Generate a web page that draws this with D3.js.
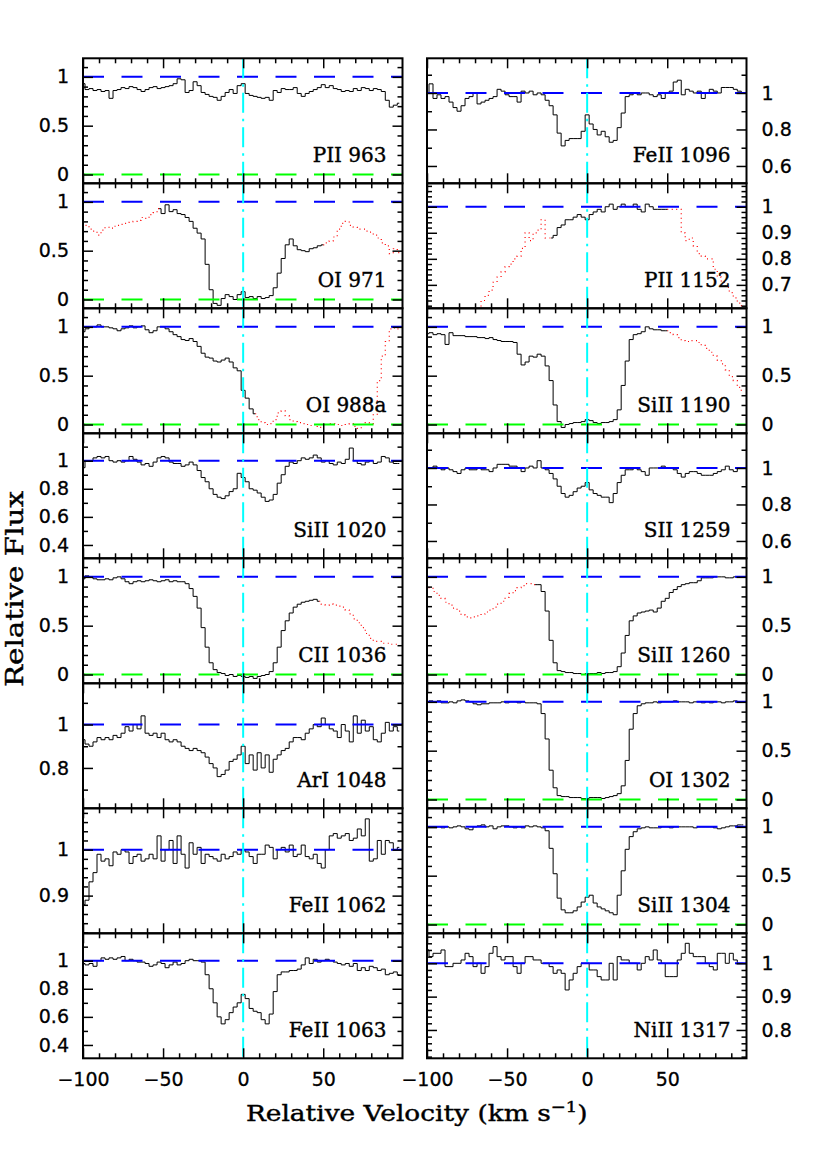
<!DOCTYPE html>
<html>
<head>
<meta charset="utf-8">
<script src="https://cdn.jsdelivr.net/npm/d3@7"></script>
<style>
  html, body { margin: 0; padding: 0; background: #ffffff; }
  svg { display: block; }
</style>
</head>
<body>
<div id="graph"></div>
<script>
//----------------------------------------------------------
// data: pixel velocities (km/s) and normalised flux per line

const VELOCITY = [
  -100, -97.5, -95, -92.5, -90, -87.5, -85, -82.5, -80, -77.5,
  -75, -72.5, -70, -67.5, -65, -62.5, -60, -57.5, -55, -52.5,
  -50, -47.5, -45, -42.5, -40, -37.5, -35, -32.5, -30, -27.5,
  -25, -22.5, -20, -17.5, -15, -12.5, -10, -7.5, -5, -2.5,
  0, 2.5, 5, 7.5, 10, 12.5, 15, 17.5, 20, 22.5,
  25, 27.5, 30, 32.5, 35, 37.5, 40, 42.5, 45, 47.5,
  50, 52.5, 55, 57.5, 60, 62.5, 65, 67.5, 70, 72.5,
  75, 77.5, 80, 82.5, 85, 87.5, 90, 92.5, 95, 97.5
];

const FLUX_PII_963 = [
  0.93, 0.87, 0.88, 0.86, 0.87, 0.85, 0.86, 0.78, 0.86, 0.87,
  0.89, 0.88, 0.90, 0.89, 0.87, 0.85, 0.87, 0.89, 0.90, 0.88,
  0.89, 0.90, 0.91, 0.93, 0.98, 0.97, 0.84, 0.86, 0.95, 0.91,
  0.84, 0.82, 0.80, 0.79, 0.76, 0.80, 0.84, 0.87, 0.83, 0.91,
  0.93, 0.83, 0.81, 0.80, 0.79, 0.78, 0.79, 0.76, 0.86, 0.84,
  0.88, 0.87, 0.87, 0.89, 0.83, 0.80, 0.83, 0.85, 0.87, 0.89,
  0.92, 0.89, 0.91, 0.88, 0.87, 0.85, 0.86, 0.85, 0.88, 0.86,
  0.89, 0.88, 0.86, 0.88, 0.87, 0.85, 0.76, 0.69, 0.71, 0.73
];

const FLUX_OI_971 = [
  0.74, 0.76, 0.72, 0.70, 0.66, 0.71, 0.74, 0.73, 0.75, 0.76,
  0.77, 0.78, 0.79, 0.80, 0.81, 0.84, 0.83, 0.87, 0.89, 0.93,
  0.88, 0.97, 0.90, 0.92, 0.88, 0.87, 0.84, 0.80, 0.73, 0.68,
  0.62, 0.36, 0.10, -0.04, -0.06, 0.01, 0.05, 0.03, 0.00, 0.05,
  0.08, 0.02, 0.03, 0.01, 0.03, 0.01, 0.02, 0.04, 0.12, 0.27,
  0.42, 0.56, 0.62, 0.55, 0.51, 0.50, 0.49, 0.52, 0.53, 0.55,
  0.56, 0.58, 0.60, 0.64, 0.72, 0.78, 0.80, 0.76, 0.74, 0.72,
  0.72, 0.70, 0.69, 0.66, 0.63, 0.58, 0.55, 0.47, 0.52, 0.48
];

const FLUX_OI_988 = [
  0.95, 0.98, 1.00, 1.00, 1.02, 1.00, 1.00, 0.99, 0.98, 0.96,
  0.98, 0.99, 1.01, 0.99, 1.00, 1.01, 0.97, 0.94, 0.96, 1.00,
  1.00, 0.98, 0.95, 0.92, 0.90, 0.87, 0.86, 0.88, 0.85, 0.80,
  0.73, 0.69, 0.68, 0.65, 0.64, 0.66, 0.68, 0.64, 0.58, 0.55,
  0.35, 0.27, 0.16, 0.11, 0.05, 0.02, 0.00, 0.01, 0.05, 0.12,
  0.14, 0.09, 0.05, 0.03, 0.02, 0.01, 0.00, -0.01, 0.00, -0.03,
  0.00, 0.00, 0.01, 0.01, 0.00, -0.01, 0.00, 0.01, -0.02, -0.04,
  0.00, 0.02, 0.01, 0.10, 0.45, 0.70, 0.85, 0.98, 0.99, 0.98
];

const FLUX_SIII_1020 = [
  0.95, 1.00, 1.00, 1.02, 1.03, 1.02, 1.03, 1.00, 0.99, 1.00,
  0.99, 1.00, 1.03, 1.01, 0.99, 0.97, 0.98, 0.96, 0.99, 1.02,
  1.03, 1.02, 0.99, 0.98, 0.98, 0.96, 0.97, 0.99, 0.97, 0.93,
  0.88, 0.85, 0.80, 0.76, 0.74, 0.73, 0.75, 0.78, 0.80, 0.91,
  0.88, 0.85, 0.80, 0.79, 0.77, 0.74, 0.71, 0.72, 0.76, 0.84,
  0.90, 0.96, 0.99, 0.98, 1.00, 1.02, 1.01, 1.02, 1.04, 1.02,
  0.99, 1.00, 0.98, 0.97, 0.99, 0.98, 1.01, 1.09, 1.00, 0.98,
  0.97, 0.99, 1.00, 0.98, 0.99, 1.03, 1.02, 0.99, 0.98, 0.98
];

const FLUX_CII_1036 = [
  0.98, 1.01, 1.00, 0.98, 0.97, 0.97, 0.98, 0.97, 0.99, 1.00,
  0.98, 0.95, 0.93, 0.95, 0.96, 0.95, 0.96, 0.97, 0.96, 0.95,
  0.96, 0.97, 0.95, 0.96, 0.95, 0.95, 0.93, 0.88, 0.80, 0.68,
  0.48, 0.28, 0.12, 0.05, 0.02, 0.01, -0.01, 0.00, -0.02, -0.01,
  -0.02, -0.03, -0.02, -0.04, -0.02, -0.01, 0.00, 0.03, 0.12, 0.28,
  0.45, 0.55, 0.63, 0.69, 0.72, 0.74, 0.75, 0.76, 0.77, 0.75,
  0.72, 0.71, 0.72, 0.71, 0.70, 0.69, 0.66, 0.62, 0.57, 0.53,
  0.48, 0.42, 0.37, 0.34, 0.34, 0.32, 0.32, 0.31, 0.31, 0.30
];

const FLUX_ARI_1048 = [
  0.93, 0.91, 0.90, 0.92, 0.94, 0.93, 0.94, 0.93, 0.95, 0.94,
  0.96, 0.99, 0.97, 1.00, 0.98, 1.04, 0.96, 0.95, 0.96, 0.94,
  0.96, 0.93, 0.92, 0.93, 0.92, 0.90, 0.89, 0.88, 0.89, 0.88,
  0.87, 0.85, 0.82, 0.80, 0.76, 0.77, 0.79, 0.83, 0.84, 0.86,
  0.90, 0.82, 0.86, 0.79, 0.87, 0.80, 0.86, 0.78, 0.84, 0.86,
  0.88, 0.89, 0.92, 0.94, 0.94, 0.93, 0.96, 0.98, 1.00, 0.99,
  1.03, 1.00, 0.98, 0.97, 0.94, 1.00, 0.97, 0.92, 1.04, 0.96,
  1.02, 0.97, 0.99, 0.93, 0.92, 0.96, 1.01, 0.97, 0.99, 0.97
];

const FLUX_FEII_1062 = [
  0.88, 0.89, 0.93, 0.95, 0.99, 0.975, 0.98, 0.965, 0.995, 0.99,
  1.00, 0.995, 0.97, 0.985, 0.99, 0.975, 0.98, 0.99, 0.98, 1.03,
  0.975, 1.00, 1.02, 0.97, 1.03, 0.99, 0.96, 1.015, 0.99, 1.005,
  0.97, 0.99, 0.985, 0.98, 0.975, 0.99, 0.98, 0.985, 0.995, 0.99,
  1.00, 0.995, 0.985, 0.97, 0.99, 0.99, 1.01, 1.005, 0.98, 1.00,
  1.005, 0.995, 1.01, 0.985, 0.99, 1.01, 0.985, 0.98, 0.99, 0.97,
  0.96, 1.00, 1.03, 1.035, 1.025, 1.03, 1.035, 1.02, 1.025, 1.045,
  1.03, 1.067, 0.975, 0.98, 1.02, 0.99, 1.02, 1.015, 1.00, 1.005
];

const FLUX_FEII_1063 = [
  0.98, 0.97, 0.98, 0.96, 1.00, 1.02, 1.01, 1.02, 1.01, 1.02,
  1.03, 1.00, 1.01, 1.00, 0.99, 0.99, 0.98, 0.96, 0.97, 0.99,
  0.98, 0.95, 0.97, 0.99, 0.97, 0.98, 1.00, 1.01, 1.00, 1.00,
  0.99, 0.90, 0.80, 0.70, 0.60, 0.55, 0.58, 0.63, 0.67, 0.70,
  0.76, 0.73, 0.66, 0.64, 0.63, 0.58, 0.55, 0.62, 0.78, 0.90,
  0.92, 0.92, 0.93, 0.93, 0.94, 0.97, 1.02, 0.98, 1.01, 0.99,
  1.00, 1.01, 1.00, 0.99, 0.98, 0.97, 0.98, 0.96, 0.98, 0.93,
  0.95, 0.93, 0.96, 0.95, 0.93, 0.94, 0.90, 0.91, 0.92, 0.90
];

const FLUX_FEII_1096 = [
  1.00, 1.05, 0.97, 0.99, 0.97, 0.98, 0.95, 0.92, 0.90, 0.93,
  0.97, 0.98, 1.00, 0.94, 0.95, 0.96, 0.97, 0.98, 1.02, 1.01,
  0.99, 0.98, 0.98, 0.95, 1.01, 1.00, 1.01, 0.99, 1.00, 0.99,
  0.96, 0.93, 0.88, 0.78, 0.71, 0.74, 0.75, 0.75, 0.75, 0.79,
  0.88, 0.83, 0.80, 0.77, 0.79, 0.76, 0.73, 0.74, 0.81, 0.89,
  0.98, 0.99, 1.00, 0.99, 1.00, 1.00, 0.99, 0.98, 0.99, 0.97,
  1.00, 1.01, 1.06, 1.07, 0.99, 1.02, 1.01, 1.00, 1.01, 0.97,
  1.00, 1.02, 1.01, 1.00, 1.03, 1.03, 1.03, 1.02, 1.01, 1.00
];

const FLUX_PII_1152 = [
  null, null, null, null, null, null, null, null, null, null,
  null, null, null, 0.59, 0.64, 0.66, 0.68, 0.71, 0.73, 0.75,
  0.77, 0.78, 0.80, 0.81, 0.84, 0.90, 0.87, 0.90, 0.91, 0.95,
  0.88, 0.88, 0.89, 0.92, 0.93, 0.95, 0.95, 0.96, 0.97, 0.96,
  0.95, 0.97, 0.98, 0.99, 0.98, 1.00, 1.01, 0.99, 1.00, 1.01,
  1.00, 1.00, 1.01, 0.99, 0.98, 1.01, 1.00, 0.99, 0.99, 0.99,
  0.99, 0.99, 0.99, 0.99, 0.90, 0.87, 0.88, 0.85, 0.82, 0.81,
  0.80, 0.80, 0.76, 0.73, 0.71, 0.69, 0.67, 0.65, 0.63, 0.62
];

const FLUX_SIII_1190 = [
  0.93, 0.94, 0.92, 0.93, 0.92, 0.82, 0.94, 0.91, 0.91, 0.91,
  0.90, 0.90, 0.90, 0.89, 0.89, 0.88, 0.89, 0.87, 0.86, 0.85,
  0.85, 0.85, 0.84, 0.72, 0.61, 0.64, 0.70, 0.69, 0.72, 0.70,
  0.60, 0.45, 0.20, 0.03, -0.03, 0.00, 0.01, 0.02, 0.02, 0.03,
  0.05, 0.04, 0.02, 0.01, 0.02, 0.02, 0.03, 0.05, 0.15, 0.40,
  0.65, 0.87, 0.92, 0.93, 0.95, 1.00, 0.98, 0.97, 0.97, 0.96,
  0.96, 0.94, 0.92, 0.89, 0.86, 0.85, 0.86, 0.86, 0.84, 0.81,
  0.78, 0.74, 0.70, 0.66, 0.62, 0.56, 0.49, 0.45, 0.38, 0.34
];

const FLUX_SII_1259 = [
  1.00, 1.00, 1.01, 1.00, 0.99, 1.00, 0.99, 0.98, 0.97, 0.99,
  1.00, 0.99, 0.99, 1.00, 0.99, 0.99, 0.98, 1.00, 1.02, 1.02,
  1.02, 1.01, 1.01, 1.00, 0.98, 1.00, 1.01, 1.00, 1.04, 1.00,
  0.99, 0.97, 0.94, 0.90, 0.86, 0.84, 0.85, 0.87, 0.89, 0.90,
  0.92, 0.88, 0.86, 0.85, 0.84, 0.84, 0.81, 0.86, 0.92, 0.96,
  0.99, 0.99, 1.00, 0.99, 0.98, 0.96, 1.00, 1.00, 1.00, 1.01,
  1.00, 1.00, 0.99, 0.97, 0.95, 0.97, 0.98, 0.98, 0.97, 0.96,
  0.96, 0.96, 0.97, 0.98, 0.99, 1.01, 0.99, 0.98, 1.00, 1.00
];

const FLUX_SIII_1260 = [
  0.92, 0.89, 0.85, 0.81, 0.78, 0.74, 0.71, 0.68, 0.65, 0.61,
  0.59, 0.58, 0.59, 0.60, 0.62, 0.64, 0.66, 0.69, 0.72, 0.75,
  0.79, 0.83, 0.86, 0.89, 0.91, 0.93, 0.93, 0.92, 0.92, 0.85,
  0.65, 0.35, 0.12, 0.04, 0.03, 0.02, 0.02, 0.01, 0.01, 0.00,
  0.01, 0.01, 0.01, 0.02, 0.01, 0.02, 0.02, 0.03, 0.08, 0.22,
  0.40, 0.55, 0.60, 0.63, 0.64, 0.65, 0.66, 0.64, 0.68, 0.75,
  0.78, 0.84, 0.87, 0.90, 0.92, 0.93, 0.94, 0.94, 0.96, 0.99,
  0.99, 0.99, 1.00, 1.00, 1.00, 0.99, 0.99, 1.00, 1.00, 1.00
];

const FLUX_OI_1302 = [
  1.00, 1.01, 1.00, 1.01, 0.99, 0.99, 1.00, 0.99, 1.01, 1.02,
  1.01, 1.00, 0.98, 0.97, 0.98, 0.98, 0.99, 0.99, 0.99, 1.00,
  0.99, 1.00, 1.00, 0.99, 1.00, 0.99, 0.99, 0.99, 0.98, 0.88,
  0.62, 0.30, 0.12, 0.04, 0.03, 0.03, 0.02, 0.02, 0.02, 0.01,
  0.01, 0.02, 0.02, 0.02, 0.01, 0.02, 0.03, 0.04, 0.06, 0.14,
  0.40, 0.72, 0.88, 0.96, 0.98, 0.99, 0.99, 1.00, 0.99, 1.00,
  1.00, 1.00, 1.01, 1.00, 1.00, 1.00, 0.99, 1.00, 1.00, 0.99,
  1.00, 0.99, 1.00, 1.00, 0.99, 1.00, 1.00, 1.01, 1.00, 1.00
];

const FLUX_SIII_1304 = [
  0.99, 0.99, 0.99, 1.00, 0.99, 1.00, 0.99, 1.00, 1.01, 1.00,
  0.98, 0.97, 1.00, 1.01, 1.02, 1.00, 1.01, 0.98, 1.00, 1.01,
  1.01, 1.00, 0.99, 1.00, 0.99, 1.01, 1.00, 1.01, 1.00, 0.99,
  0.96, 0.78, 0.52, 0.27, 0.15, 0.12, 0.12, 0.14, 0.18, 0.23,
  0.28, 0.30, 0.22, 0.18, 0.16, 0.14, 0.12, 0.10, 0.30, 0.55,
  0.77, 0.90, 0.95, 0.98, 0.99, 1.00, 0.99, 0.99, 0.99, 1.00,
  1.00, 0.99, 1.00, 1.00, 1.00, 1.00, 1.00, 0.99, 1.00, 1.00,
  1.00, 1.00, 0.99, 0.98, 0.99, 1.00, 1.01, 1.01, 1.02, 1.02
];

const FLUX_NIII_1317 = [
  1.04, 1.02, 1.03, 1.03, 1.04, 0.99, 0.99, 1.00, 1.00, 1.01,
  1.03, 1.02, 0.99, 1.00, 0.97, 0.99, 1.03, 1.05, 1.02, 1.01,
  1.02, 1.02, 0.99, 0.97, 1.00, 1.02, 1.02, 1.01, 1.01, 1.00,
  1.00, 0.99, 0.97, 0.98, 0.97, 0.92, 0.95, 0.97, 0.99, 1.00,
  1.00, 0.98, 0.98, 0.96, 0.95, 0.95, 1.00, 0.95, 1.02, 1.01,
  1.01, 1.00, 1.00, 0.98, 1.00, 1.02, 1.01, 1.04, 1.01, 1.00,
  0.96, 0.96, 0.96, 1.01, 1.03, 1.06, 1.03, 1.02, 1.02, 1.02,
  1.00, 0.99, 0.98, 1.03, 1.03, 1.00, 1.03, 1.01, 1.00, 1.00
];

// panels: left column top to bottom, then right column top to bottom
const LINE_LABELS = [
  "PII 963", "OI 971", "OI 988a", "SiII 1020",
  "CII 1036", "ArI 1048", "FeII 1062", "FeII 1063",
  "FeII 1096", "PII 1152", "SiII 1190", "SII 1259",
  "SiII 1260", "OI 1302", "SiII 1304", "NiII 1317"
];

const LINE_FLUX = [
  FLUX_PII_963, FLUX_OI_971, FLUX_OI_988, FLUX_SIII_1020,
  FLUX_CII_1036, FLUX_ARI_1048, FLUX_FEII_1062, FLUX_FEII_1063,
  FLUX_FEII_1096, FLUX_PII_1152, FLUX_SIII_1190, FLUX_SII_1259,
  FLUX_SIII_1260, FLUX_OI_1302, FLUX_SIII_1304, FLUX_NIII_1317
];

// velocity span drawn solid; outside it the profile is blended (dotted)
const SOLID_SPAN = [
  [-100, 97.5], [-52.5, 50], [-100, 7.5], [-100, 97.5],
  [-100, 47.5], [-100, 97.5], [-100, 97.5], [-100, 97.5],
  [-100, 97.5], [-22.5, 50], [-100, 50], [-100, 97.5],
  [-32.5, 97.5], [-100, 97.5], [-100, 97.5], [-100, 97.5]
];

const FLUX_RANGE = [
  [-0.09, 1.19], [-0.09, 1.19], [-0.09, 1.19], [0.305, 1.195],
  [-0.09, 1.19], [0.614, 1.19], [0.818, 1.09], [0.305, 1.195],
  [0.505, 1.19], [0.61, 1.09], [-0.09, 1.19], [0.505, 1.19],
  [-0.09, 1.19], [-0.09, 1.19], [-0.09, 1.19], [0.715, 1.09]
];

// [labelled tick step, small tick step]
const FLUX_TICK_STEP = [
  [0.5, 0.1], [0.5, 0.1], [0.5, 0.1], [0.2, 0.1],
  [0.5, 0.1], [0.2, 0.1], [0.1, 0.02], [0.2, 0.1],
  [0.2, 0.1], [0.1, 0.02], [0.5, 0.1], [0.2, 0.1],
  [0.5, 0.1], [0.5, 0.1], [0.5, 0.1], [0.1, 0.02]
];

const VELOCITY_RANGE = [-100, 99.5];
const VELOCITY_TICKS = [-100, -50, 0, 50];


//----------------------------------------------------------
// layout

const g_col_left = [83, 427];
const g_panel_w = 319.5;
const g_panel_top = 58.3;
const g_panel_h = 125;
const g_rows = 8;

const NUM_FONT = "'DejaVu Sans', sans-serif";
const TXT_FONT = "'DejaVu Serif', serif";

var g_svg = d3.select("#graph")
  .append("svg")
    .attr("width", 830)
    .attr("height", 1176)
    .style("background", "#ffffff");

var g_defs = g_svg.append("defs");
var g_fmt = d3.format("~g");


//----------------------------------------------------------
function Steps(domain, step) {
    const first = Math.ceil(domain[0] / step - 1e-6);
    const last = Math.floor(domain[1] / step + 1e-6);
    return d3.range(first, last + 1).map(function (i) {
        return +(i * step).toFixed(4);
    });
}

function IsMultiple(v, step) {
    return Math.abs(v / step - Math.round(v / step)) < 1e-6;
}

function StyleAxis(sel, labels) {
    sel.select(".domain").remove();
    sel.selectAll(".tick line")
        .attr("stroke", "#000")
        .attr("stroke-width", 1.5);
    sel.selectAll(".tick text")
        .attr("fill", "#000")
        .attr("stroke", "#000")
        .attr("stroke-width", 0.3)
        .style("font-family", NUM_FONT)
        .style("font-size", "19px");
    if (!labels)
        sel.selectAll(".tick text").remove();
}


//----------------------------------------------------------
function DrawPanel(index) {
    const col = Math.floor(index / g_rows);
    const row = index % g_rows;
    const left = g_col_left[col];
    const right = left + g_panel_w;
    const top = g_panel_top + row * g_panel_h;
    const bottom = top + g_panel_h;

    const x = d3.scaleLinear().domain(VELOCITY_RANGE).range([left, right]);
    const y = d3.scaleLinear().domain(FLUX_RANGE[index]).range([bottom, top]);

    const panel = g_svg.append("g").attr("class", "panel");

    const clip_id = "clip-" + index;
    g_defs.append("clipPath")
        .attr("id", clip_id)
      .append("rect")
        .attr("x", left)
        .attr("y", top)
        .attr("width", g_panel_w)
        .attr("height", g_panel_h);

    const plot = panel.append("g")
        .attr("clip-path", "url(#" + clip_id + ")");

    // spectrum
    const flux = LINE_FLUX[index];
    const points = VELOCITY.map(function (v, i) {
        return { v: v, f: flux[i] };
    });
    const span = SOLID_SPAN[index];

    const line = d3.line()
        .defined(function (d) { return d.f !== null; })
        .x(function (d) { return x(d.v); })
        .y(function (d) { return y(d.f); })
        .curve(d3.curveStep);

    const blended = [];
    if (span[0] > VELOCITY[0])
        blended.push(points.filter(function (d) { return d.v <= span[0]; }));
    if (span[1] < VELOCITY[VELOCITY.length - 1])
        blended.push(points.filter(function (d) { return d.v >= span[1]; }));

    plot.selectAll("path.blend")
      .data(blended)
      .join("path")
        .attr("class", "blend")
        .attr("d", line)
        .attr("fill", "none")
        .attr("stroke", "#ff0000")
        .attr("stroke-width", 1.2)
        .attr("stroke-dasharray", "1,3.5");

    plot.append("path")
        .datum(points.filter(function (d) { return d.v >= span[0] && d.v <= span[1]; }))
        .attr("d", line)
        .attr("fill", "none")
        .attr("stroke", "#000")
        .attr("stroke-width", 1);

    // continuum and zero levels
    const levels = [{ f: 1, c: "#0000ff" }, { f: 0, c: "#00ff00" }].filter(function (d) {
        return d.f >= FLUX_RANGE[index][0] && d.f <= FLUX_RANGE[index][1];
    });
    plot.selectAll("line.level")
      .data(levels)
      .join("line")
        .attr("class", "level")
        .attr("x1", left)
        .attr("x2", right)
        .attr("y1", function (d) { return y(d.f); })
        .attr("y2", function (d) { return y(d.f); })
        .attr("stroke", function (d) { return d.c; })
        .attr("stroke-width", 2)
        .attr("stroke-dasharray", "21,17.5");

    // zero velocity
    plot.append("line")
        .attr("x1", x(0))
        .attr("x2", x(0))
        .attr("y1", top)
        .attr("y2", bottom)
        .attr("stroke", "#00ffff")
        .attr("stroke-width", 2)
        .attr("stroke-dasharray", "20,6,2.5,6");

    // velocity ticks, top and bottom, pointing inwards
    const vminor = Steps(VELOCITY_RANGE, 10).filter(function (v) { return !IsMultiple(v, 50); });
    const is_last = row === g_rows - 1;

    panel.append("g")
        .attr("transform", "translate(0," + bottom + ")")
        .call(d3.axisBottom(x).tickValues(vminor).tickSize(-5))
        .call(StyleAxis, false);
    panel.append("g")
        .attr("transform", "translate(0," + bottom + ")")
        .call(d3.axisBottom(x).tickValues(VELOCITY_TICKS).tickSize(-10).tickPadding(14))
        .call(StyleAxis, is_last);
    panel.append("g")
        .attr("transform", "translate(0," + top + ")")
        .call(d3.axisTop(x).tickValues(vminor).tickSize(-5))
        .call(StyleAxis, false);
    panel.append("g")
        .attr("transform", "translate(0," + top + ")")
        .call(d3.axisTop(x).tickValues(VELOCITY_TICKS).tickSize(-10))
        .call(StyleAxis, false);

    // flux ticks, left and right
    const step = FLUX_TICK_STEP[index];
    const fmajor = Steps(FLUX_RANGE[index], step[0]);
    const fminor = Steps(FLUX_RANGE[index], step[1]).filter(function (v) { return !IsMultiple(v, step[0]); });

    panel.append("g")
        .attr("transform", "translate(" + left + ",0)")
        .call(d3.axisLeft(y).tickValues(fminor).tickSize(-5))
        .call(StyleAxis, false);
    panel.append("g")
        .attr("transform", "translate(" + left + ",0)")
        .call(d3.axisLeft(y).tickValues(fmajor).tickSize(-10).tickPadding(14).tickFormat(g_fmt))
        .call(StyleAxis, col === 0);
    panel.append("g")
        .attr("transform", "translate(" + right + ",0)")
        .call(d3.axisRight(y).tickValues(fminor).tickSize(-5))
        .call(StyleAxis, false);
    panel.append("g")
        .attr("transform", "translate(" + right + ",0)")
        .call(d3.axisRight(y).tickValues(fmajor).tickSize(-10).tickPadding(15).tickFormat(g_fmt))
        .call(StyleAxis, col === 1);

    // frame
    panel.append("rect")
        .attr("x", left)
        .attr("y", top)
        .attr("width", g_panel_w)
        .attr("height", g_panel_h)
        .attr("fill", "none")
        .attr("stroke", "#000")
        .attr("stroke-width", 2);

    // line identification
    panel.append("text")
        .attr("x", right - 16)
        .attr("y", bottom - 21)
        .attr("text-anchor", "end")
        .style("font-family", TXT_FONT)
        .style("font-size", "20px")
        .attr("fill", "#000")
        .attr("stroke", "#000")
        .attr("stroke-width", 0.4)
        .text(LINE_LABELS[index]);
}


//----------------------------------------------------------
function DrawTitles() {
    const plot_bottom = g_panel_top + g_rows * g_panel_h;
    const cx = (g_col_left[0] + g_col_left[1] + g_panel_w) / 2 + 2;

    const xt = g_svg.append("text")
        .attr("x", cx)
        .attr("y", plot_bottom + 63)
        .attr("text-anchor", "middle")
        .style("font-family", TXT_FONT)
        .style("font-size", "22px")
        .attr("fill", "#000")
        .attr("stroke", "#000")
        .attr("stroke-width", 0.4);
    xt.append("tspan").text("Relative Velocity (km s");
    xt.append("tspan").attr("dy", -9).style("font-size", "15px").text("\u22121");
    xt.append("tspan").attr("dy", 9).text(")");

    // stretch to the wide plotter font
    const w = xt.node().getBBox().width;
    const k = 342 / w;
    xt.attr("transform", "translate(" + cx + ",0) scale(" + k + ",1) translate(" + (-cx) + ",0)");

    g_svg.append("text")
        .attr("transform", "translate(23," + 589 + ") rotate(-90)")
        .attr("text-anchor", "middle")
        .style("font-family", TXT_FONT)
        .style("font-size", "24px")
        .attr("textLength", 196)
        .attr("lengthAdjust", "spacingAndGlyphs")
        .attr("fill", "#000")
        .attr("stroke", "#000")
        .attr("stroke-width", 0.4)
        .text("Relative Flux");
}


//----------------------------------------------------------
d3.range(LINE_LABELS.length).forEach(DrawPanel);
DrawTitles();
</script>
</body>
</html>
